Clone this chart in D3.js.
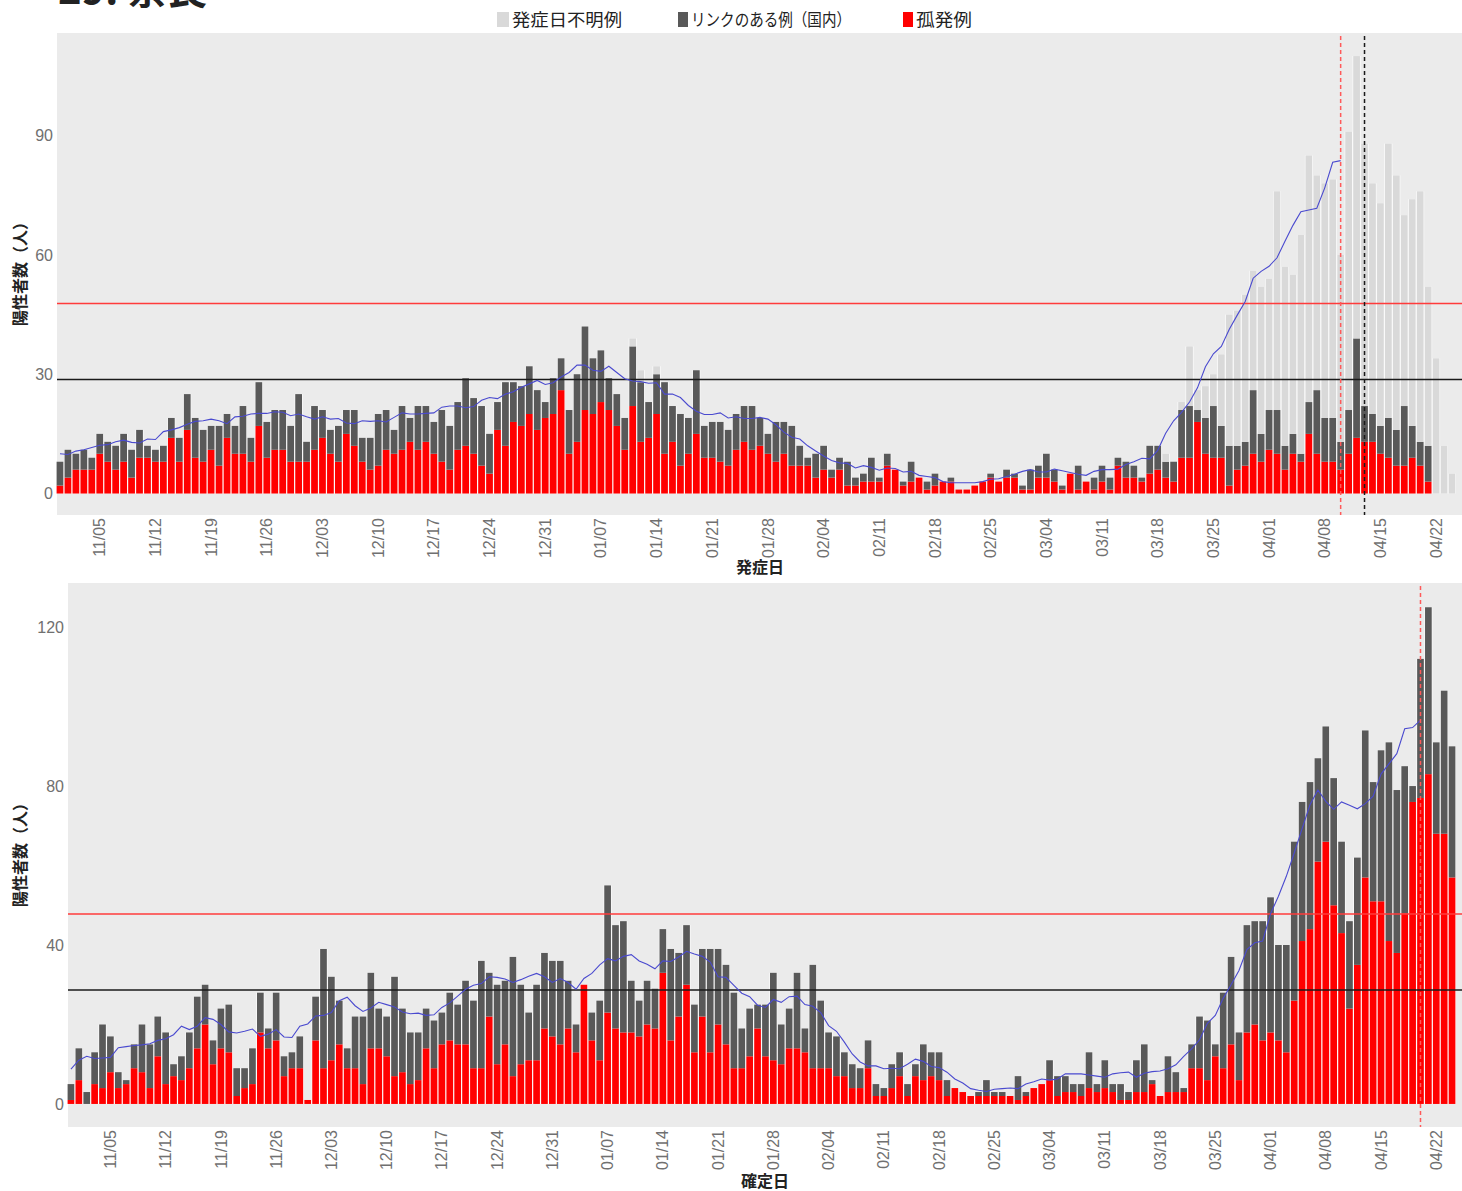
<!DOCTYPE html>
<html>
<head>
<meta charset="utf-8">
<script src="https://cdn.jsdelivr.net/npm/d3@7/dist/d3.min.js"></script>
<style>
  html, body { margin: 0; padding: 0; background: #fff; }
  svg { display: block; }
  .num { font-family: "Liberation Sans", Arial, sans-serif; }
  .jp { font-family: "Noto Sans CJK JP", "Noto Sans", sans-serif; }
</style>
</head>
<body>
<svg id="chart" width="1462" height="1191"></svg>
<script>
// ---------- DATA ----------
// Days from 2020-10-31 to 2021-04-24 (176 days)
const firstDay = new Date(2020, 9, 31);
const lastDayExclusive = new Date(2021, 3, 25);

const tickLabels = ["11/05","11/12","11/19","11/26","12/03","12/10","12/17","12/24","12/31",
  "01/07","01/14","01/21","01/28","02/04","02/11","02/18","02/25","03/04","03/11","03/18",
  "03/25","04/01","04/08","04/15","04/22"];

const seriesNames = ["孤発例", "リンクのある例（国内）", "発症日不明例"];

// Upper panel (by onset date)
const onsetIsolated = [
  2,4,6,6,6,10,8,6,8,4,  9,9,8,8,14,8,16,9,8,11,  7,14,10,10,8,17,9,11,11,8,
  8,8,11,14,10,8,15,12,8,6,  7,11,10,11,13,11,13,10,8,6,  11,12,10,7,5,16,12,18,17,20,
  16,19,20,26,10,13,21,20,23,21,  17,11,22,13,14,20,10,13,7,10,  15,9,9,8,7,11,13,11,12,10,
  8,10,7,7,7,4,6,4,6,2,  2,3,3,3,7,6,2,3,4,1,  2,3,3,1,1,2,3,4,3,4,
  4,1,1,4,4,3,1,5,1,3,  1,3,1,7,4,4,3,5,6,4,  3,9,9,18,10,9,9,2,6,7,
  10,8,11,10,6,10,8,15,10,8,  8,6,10,14,13,13,10,9,7,7,  9,7,3,0,0,0];
const onsetLinked = [
  6,7,4,5,3,5,5,6,7,7,  7,3,3,4,5,6,9,10,8,6,  10,6,7,12,6,11,9,10,10,9,
  17,5,11,7,6,9,6,9,6,8,  13,10,6,11,6,11,9,8,13,11,  12,17,14,15,10,7,16,10,10,12,
  10,4,9,8,11,17,21,14,13,8,  8,8,15,15,9,10,18,9,13,9,  16,8,9,10,9,9,9,11,7,5,
  10,8,10,5,2,6,6,2,3,6,  2,2,6,1,3,0,1,5,0,2,  3,0,1,0,0,0,0,1,0,2,
  1,1,5,3,6,3,1,0,6,0,  3,4,3,2,4,3,1,7,6,4,  5,12,13,3,9,13,8,10,6,6,
  16,7,10,11,6,5,2,8,16,11,  11,7,11,25,9,7,7,10,9,15,  8,6,9,0,0,0];
const onsetUnknown = [
  0,0,0,0,0,0,0,0,0,0,  0,0,0,0,0,0,0,0,0,0,  0,0,0,0,0,0,0,0,0,0,
  0,0,0,0,0,0,0,0,0,0,  0,0,0,0,0,0,0,0,0,0,  0,0,0,0,0,0,0,0,0,0,
  0,0,0,0,0,0,0,0,0,0,  0,0,2,3,0,2,0,0,0,0,  0,0,0,0,0,0,0,0,0,0,
  0,0,0,0,0,0,0,0,0,0,  0,0,0,0,0,0,0,0,0,0,  0,0,0,0,0,0,0,0,0,0,
  0,0,0,0,0,0,0,0,0,0,  0,0,0,0,0,0,0,0,0,2,  0,2,15,5,8,8,18,33,34,37,
  30,37,33,55,45,40,55,62,54,59,  60,47,70,71,66,58,56,69,64,48,  57,63,40,34,12,5];

// Lower panel (by confirmation date)
const confirmIsolated = [
  1,6,0,5,4,8,4,5,9,8,  4,12,5,7,6,9,14,20,10,14,  13,2,4,5,18,14,16,7,9,9,
  1,16,9,11,15,9,9,5,14,14,  12,7,8,5,6,14,9,15,16,15,  15,9,9,22,10,15,7,10,11,11,
  19,17,15,19,13,30,16,11,23,19,  18,18,17,20,19,33,16,22,30,13,  22,13,20,15,9,9,12,19,12,11,
  10,14,14,13,9,9,9,7,7,4,  4,9,2,2,4,7,2,7,6,7,  6,2,4,3,2,2,2,2,2,2,
  1,2,4,5,6,2,3,3,2,4,  3,4,3,1,1,3,3,5,2,3,  3,3,9,9,6,12,9,15,6,18,
  20,16,18,16,13,26,41,44,61,66,  50,43,24,35,57,51,51,41,38,48,  76,77,83,68,68,57];
const confirmLinked = [
  4,8,3,8,16,9,4,1,6,12,  11,10,13,3,6,9,13,10,6,10,  12,7,5,9,10,5,12,5,4,8,
  0,11,30,21,11,5,13,17,19,10,  10,25,16,13,12,10,12,8,12,10,  16,17,27,11,20,16,30,20,12,19,
  19,19,21,12,7,0,7,15,32,26,  28,13,9,11,10,11,23,16,15,12,  17,26,19,20,19,10,12,6,13,22,
  10,10,19,6,26,17,9,10,6,6,  5,7,3,2,6,6,3,3,9,6,  7,4,0,0,0,1,4,1,1,0,
  6,1,0,0,5,5,4,2,3,9,  2,7,2,4,2,8,12,1,0,9,  5,1,6,13,15,3,19,22,12,27,
  26,30,34,24,27,40,35,37,26,29,  32,23,22,27,37,30,38,50,41,37,  4,35,42,23,36,33];

// Reference lines
const thresholdLow = 28.7;   // black horizontal line
const thresholdHigh = 47.8;  // red horizontal line
const onsetMarkRed = "04/10";
const onsetMarkBlack = "04/13";
const confirmMarkRed = "04/20";
const onsetAverageEnd = "04/10";
const confirmAverageEnd = "04/20";

const yTicksTop = [0, 30, 60, 90];
const yTicksBottom = [0, 40, 80, 120];

// ---------- DRAW ----------
const fmt = d3.timeFormat("%m/%d");
const dates = d3.timeDay.range(firstDay, lastDayExclusive).map(fmt);

const colors = { isolated: "#ff0000", linked: "#595959", unknown: "#d9d9d9" };
const svg = d3.select("#chart");
svg.append("rect").attr("width", 1462).attr("height", 1191).attr("fill", "#fff");

// Title (clipped at the top edge, as in the reference)
svg.append("text").attr("class", "jp").attr("x", 58).attr("y", 4)
  .attr("font-size", 40).attr("font-weight", "bold").attr("fill", "#222").text("29. 奈良");

// Legend
const legend = [
  { x: 497, w: 12, color: colors.unknown, label: seriesNames[2], len: 110 },
  { x: 678, w: 10, color: colors.linked, label: seriesNames[1], len: 160 },
  { x: 903, w: 10, color: colors.isolated, label: seriesNames[0], len: 56 }
];
legend.forEach(l => {
  svg.append("rect").attr("x", l.x).attr("y", 12).attr("width", l.w).attr("height", 15).attr("fill", l.color);
  svg.append("text").attr("class", "jp").attr("x", l.x + l.w + 3).attr("y", 26)
    .attr("font-size", 17).attr("fill", "#222")
    .attr("textLength", l.len).attr("lengthAdjust", "spacingAndGlyphs")
    .text(l.label);
});

function centeredAverage(totals, endIndex) {
  const out = [];
  for (let i = 0; i <= endIndex; i++) {
    const lo = Math.max(0, i - 3), hi = Math.min(totals.length - 1, i + 3);
    out.push({ i, v: d3.mean(totals.slice(lo, hi + 1)) });
  }
  return out;
}

function panel(opts) {
  const { left, right, top, bottom, xRange, yDomain, keys, rows, yTicks, xTitle, avgEnd, marks } = opts;
  const g = svg.append("g");
  g.append("rect").attr("x", left).attr("y", top).attr("width", right - left).attr("height", bottom - top)
    .attr("fill", "#ebebeb");

  const x = d3.scaleBand().domain(dates).range(xRange).padding(0);
  const y = d3.scaleLinear().domain(yDomain).range([bottom, top]);
  const bw = x.bandwidth();

  const stacked = d3.stack().keys(keys)(rows);
  const totals = rows.map(r => d3.sum(keys, k => r[k]));

  // white separators behind each day's stack
  g.append("g").selectAll("rect").data(rows).join("rect")
    .attr("x", (r) => x(r.date))
    .attr("width", bw)
    .attr("y", (r, i) => y(totals[i]))
    .attr("height", (r, i) => Math.max(0, y(0) - y(totals[i])))
    .attr("fill", "#ffffff");

  stacked.forEach(layer => {
    g.append("g").selectAll("rect").data(layer.filter(d => d[1] > d[0])).join("rect")
      .attr("x", d => x(d.data.date) + 0.6)
      .attr("width", bw - 1.2)
      .attr("y", d => y(d[1]))
      .attr("height", d => y(d[0]) - y(d[1]))
      .attr("fill", colors[layer.key]);
  });

  // horizontal thresholds
  g.append("line").attr("x1", left).attr("x2", right).attr("y1", y(thresholdHigh)).attr("y2", y(thresholdHigh))
    .attr("stroke", "#ff3b3b").attr("stroke-width", 1.4);
  g.append("line").attr("x1", left).attr("x2", right).attr("y1", y(thresholdLow)).attr("y2", y(thresholdLow))
    .attr("stroke", "#1a1a1a").attr("stroke-width", 1.5);

  // 7-day centred average of the daily totals
  const endIdx = dates.indexOf(avgEnd);
  const avg = centeredAverage(totals, endIdx);
  g.append("path").datum(avg)
    .attr("d", d3.line().x(d => x(dates[d.i]) + bw / 2).y(d => y(d.v)))
    .attr("fill", "none").attr("stroke", "#4a4acf").attr("stroke-width", 1.1);

  // vertical dashed markers
  marks.forEach(m => {
    const xx = x(m.date) + bw / 2;
    g.append("line").attr("x1", xx).attr("x2", xx).attr("y1", top + 3).attr("y2", bottom)
      .attr("stroke", m.color).attr("stroke-width", 1.5).attr("stroke-dasharray", "4,3");
  });

  // y axis
  const ya = g.append("g").attr("class", "num").attr("transform", `translate(${left},0)`)
    .call(d3.axisLeft(y).tickValues(yTicks).tickSize(0).tickPadding(4));
  ya.select(".domain").remove();
  ya.selectAll("text").attr("font-size", 16).attr("fill", "#707070").attr("font-family", "Liberation Sans, Arial, sans-serif");

  // x axis
  const xa = g.append("g").attr("class", "num").attr("transform", `translate(0,${bottom})`)
    .call(d3.axisBottom(x).tickValues(tickLabels).tickSize(0));
  xa.select(".domain").remove();
  xa.selectAll("text")
    .attr("font-size", 16).attr("fill", "#707070").attr("font-family", "Liberation Sans, Arial, sans-serif")
    .attr("transform", "rotate(-90)")
    .attr("text-anchor", "end")
    .attr("x", -3).attr("y", 0).attr("dy", "0.35em");

  // axis titles
  const midY = (top + bottom) / 2;
  g.append("text").attr("class", "jp").attr("transform", `translate(26,${midY - 4}) rotate(-90)`)
    .attr("text-anchor", "middle").attr("font-size", 16).attr("font-weight", "bold").attr("fill", "#222")
    .text("陽性者数（人）");
  g.append("text").attr("class", "jp").attr("x", xTitle.x).attr("y", xTitle.y)
    .attr("text-anchor", "middle").attr("font-size", 16).attr("font-weight", "bold").attr("fill", "#222")
    .text(xTitle.label);
}

const onsetRows = dates.map((d, i) => ({ date: d, isolated: onsetIsolated[i], linked: onsetLinked[i], unknown: onsetUnknown[i] }));
const confirmRows = dates.map((d, i) => ({ date: d, isolated: confirmIsolated[i], linked: confirmLinked[i] }));

panel({
  left: 57, right: 1462, top: 33, bottom: 515,
  xRange: [56, 1456], yDomain: [-5.4, 115.8],
  keys: ["isolated", "linked", "unknown"], rows: onsetRows,
  yTicks: yTicksTop,
  xTitle: { label: "発症日", x: 760, y: 573 },
  avgEnd: onsetAverageEnd,
  marks: [{ date: onsetMarkRed, color: "#ff5a5a" }, { date: onsetMarkBlack, color: "#1a1a1a" }]
});

panel({
  left: 68, right: 1462, top: 583, bottom: 1127,
  xRange: [67, 1456], yDomain: [-5.8, 131.1],
  keys: ["isolated", "linked"], rows: confirmRows,
  yTicks: yTicksBottom,
  xTitle: { label: "確定日", x: 765, y: 1187 },
  avgEnd: confirmAverageEnd,
  marks: [{ date: confirmMarkRed, color: "#ff5a5a" }]
});
</script>
</body>
</html>
